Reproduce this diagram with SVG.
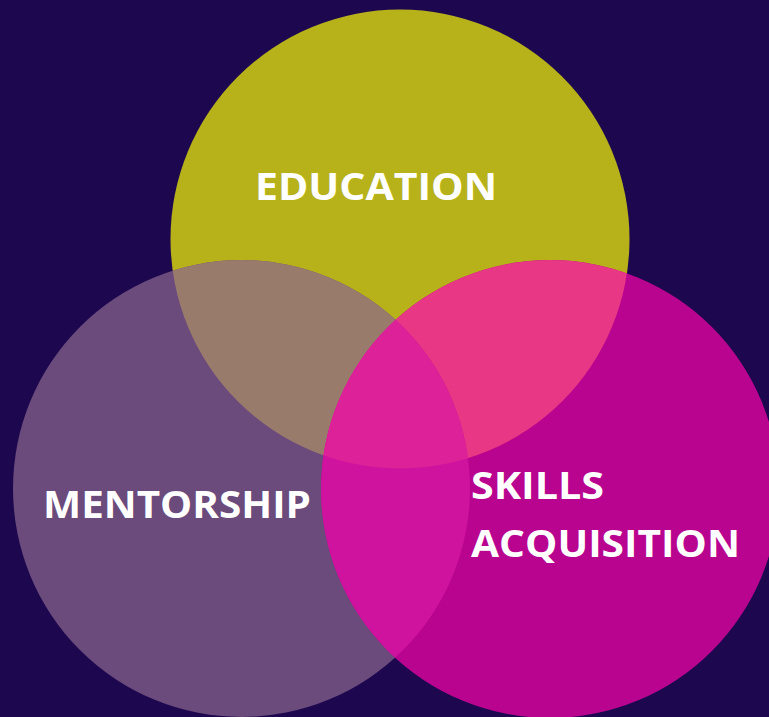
<svg xmlns="http://www.w3.org/2000/svg" width="769" height="717" viewBox="0 0 769 717">
<defs>
<clipPath id="cY"><circle cx="400" cy="239" r="229.5"/></clipPath>
<clipPath id="cP"><circle cx="241.5" cy="488.5" r="228.5"/></clipPath>
<clipPath id="cM"><circle cx="550" cy="489" r="229"/></clipPath>
<style>
.lbl{font-family:"Open Sans","Liberation Sans",sans-serif;font-weight:700;fill:#ffffff;font-size:38px}
</style>
</defs>
<rect width="769" height="717" fill="#1d084f"/>
<g id="education"><circle cx="400" cy="239" r="229.5" fill="#b8b21a"/></g>
<g id="mentorship"><circle cx="241.5" cy="488.5" r="228.5" fill="#6b4a7c"/></g>
<g id="skills"><circle cx="550" cy="489" r="229" fill="#b8048f"/></g>
<g id="overlaps">
<circle cx="241.5" cy="488.5" r="228.5" fill="#997b6c" clip-path="url(#cY)"/>
<circle cx="550" cy="489" r="229" fill="#e83784" clip-path="url(#cY)"/>
<circle cx="550" cy="489" r="229" fill="#cf139f" clip-path="url(#cP)"/>
<g clip-path="url(#cY)"><circle cx="550" cy="489" r="229" fill="#dd2198" clip-path="url(#cP)"/></g>
</g>
<g id="labels">
<text class="lbl" x="255" y="200" textLength="242" lengthAdjust="spacingAndGlyphs">EDUCATION</text>
<text class="lbl" x="43" y="518" textLength="268" lengthAdjust="spacingAndGlyphs">MENTORSHIP</text>
<text class="lbl" x="471" y="499" textLength="133" lengthAdjust="spacingAndGlyphs">SKILLS</text>
<text class="lbl" x="471" y="557" textLength="269" lengthAdjust="spacingAndGlyphs">ACQUISITION</text>
</g>
</svg>
